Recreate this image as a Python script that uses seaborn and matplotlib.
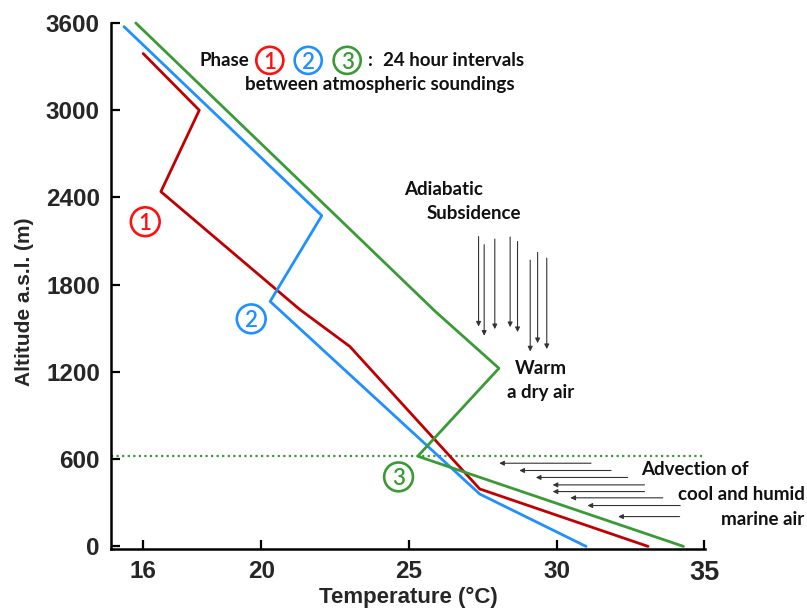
import matplotlib
matplotlib.use("Agg")
import matplotlib.pyplot as plt
import seaborn as sns

# sounding profiles (temperature degC, altitude m)
phase1_temp = [16.0, 17.9, 16.6, 21.3, 23.0, 27.4, 33.1]
phase1_alt = [3390, 3000, 2440, 1630, 1375, 395, 0]
phase2_temp = [15.35, 22.05, 20.3, 27.4, 31.0]
phase2_alt = [3575, 2275, 1685, 360, 0]
phase3_temp = [15.75, 25.9, 28.05, 25.3, 34.3]
phase3_alt = [3600, 1615, 1225, 620, 0]
inversion_alt = 625

x_ticks = [16, 20, 25, 30, 35]
y_ticks = [0, 600, 1200, 1800, 2400, 3000, 3600]

# decoration arrows: (temp, alt_start, alt_end) / (alt, temp_start, temp_end)
subsidence_arrows = [(27.36, 2131, 1512), (27.55, 2075, 1449), (27.91, 2114, 1494),
                     (28.43, 2128, 1508), (28.68, 2097, 1474), (29.11, 1969, 1341),
                     (29.36, 2022, 1398), (29.67, 1983, 1357)]
advection_arrows = [(572, 31.17, 28.06), (522, 31.85, 28.74), (474, 32.41, 29.30),
                    (423, 32.98, 29.87), (377, 32.98, 29.87), (334, 33.60, 30.47),
                    (281, 34.19, 31.05), (205, 34.17, 32.09)]

red = "#c00000"
blue = "#1e90ff"
green = "#3a9a35"
red_lbl = "#ff1010"

sns.set_style("ticks")
plt.rcParams["font.family"] = ["Liberation Sans", "DejaVu Sans"]

fig = plt.figure(figsize=(8.07, 6.11), dpi=100)
ax = fig.add_axes([111 / 807, 62 / 611, 594 / 807, 526 / 611])

ax.axhline(inversion_alt, color=green, ls=(0, (1, 1.5)), lw=1.6, zorder=1)
sns.lineplot(x=phase1_temp, y=phase1_alt, sort=False, estimator=None, color=red, lw=2, ax=ax)
sns.lineplot(x=phase2_temp, y=phase2_alt, sort=False, estimator=None, color=blue, lw=2, ax=ax)
sns.lineplot(x=phase3_temp, y=phase3_alt, sort=False, estimator=None, color=green, lw=2, ax=ax)
for line in ax.lines:
    line.set_clip_on(False)

ax.set_xlim(14.91, 35.03)
ax.set_ylim(-18, 3600)
ax.set_xticks(x_ticks)
ax.set_yticks(y_ticks)
sns.despine(ax=ax)
for s in ["left", "bottom"]:
    ax.spines[s].set_linewidth(1.8)
    ax.spines[s].set_color("black")
ax.tick_params(direction="in", length=6.5, width=1.6, color="black", pad=8)
for lab in ax.get_xticklabels() + ax.get_yticklabels():
    lab.set_fontsize(17.5)
    lab.set_fontweight("bold")
ax.get_xticklabels()[-1].set_fontsize(19.5)

ax.set_xlabel("Temperature (°C)", fontsize=16, fontweight="bold", va="center")
ax.xaxis.set_label_coords(0.5, -0.093)
ax.set_ylabel("Altitude a.s.l. (m)", fontsize=15, fontweight="bold", va="center")
ax.yaxis.set_label_coords(-0.145, 0.47)

note = dict(fontfamily=["Lato", "DejaVu Sans"], fontweight="bold", fontsize=13.5, color="#111111")

def circled(x, y, num, color, size=430, fs=16):
    ax.scatter([x], [y], s=size, facecolors="none", edgecolors=color, linewidths=1.9,
               clip_on=False, zorder=5)
    ax.text(x, y, num, color=color, fontsize=fs, ha="center", va="center_baseline",
            fontfamily=["Lato", "DejaVu Sans"], fontweight="semibold", clip_on=False, zorder=6)

# header
ax.text(18.74, 3343, "Phase", ha="center", va="center", **note)
circled(20.29, 3343, "1", red_lbl, size=380)
circled(21.59, 3343, "2", blue, size=380)
circled(22.91, 3343, "3", green, size=380)
ax.text(23.70, 3343, ":", ha="center", va="center", **note)
ax.text(24.14, 3343, "24 hour intervals", ha="left", va="center", **note)
ax.text(24.00, 3176, "between atmospheric soundings", ha="center", va="center", **note)

# phase labels on the plot
circled(16.07, 2233, "1", red_lbl)
circled(19.66, 1565, "2", blue)
circled(24.65, 478, "3", green)

ax.text(26.18, 2453, "Adiabatic", ha="center", va="center", **note)
ax.text(27.20, 2288, "Subsidence", ha="center", va="center", **note)
ax.text(29.47, 1221, "Warm", ha="center", va="center", **note)
ax.text(29.47, 1056, "a dry air", ha="center", va="center", **note)
ax.text(32.86, 526, "Advection of", ha="left", va="center", clip_on=False, **note)
ax.text(34.12, 354, "cool and humid", ha="left", va="center", clip_on=False, **note)
ax.text(35.58, 182, "marine air", ha="left", va="center", clip_on=False, **note)

arrow_style = dict(arrowstyle="-|>", color="#333333", lw=0.8, mutation_scale=7,
                   shrinkA=0, shrinkB=0)
for t, z0, z1 in subsidence_arrows:
    ax.annotate("", xy=(t, z1), xytext=(t, z0), arrowprops=arrow_style)
for z, t0, t1 in advection_arrows:
    ax.annotate("", xy=(t1, z), xytext=(t0, z), arrowprops=arrow_style, annotation_clip=False)

fig.savefig("out.png", dpi=100)
